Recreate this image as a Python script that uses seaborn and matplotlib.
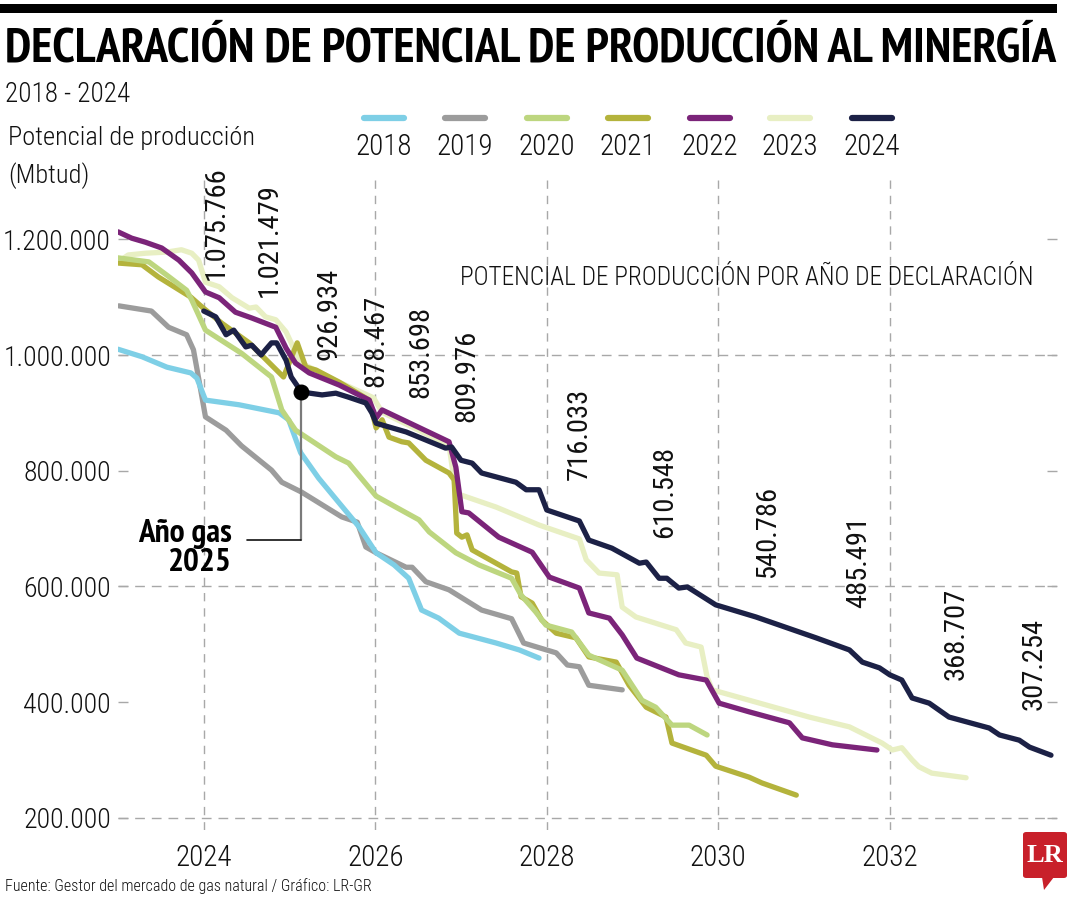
import numpy as np
import pandas as pd
import matplotlib
matplotlib.use("Agg")
import matplotlib.pyplot as plt
import seaborn as sns
from matplotlib.patches import FancyBboxPatch, Polygon, Rectangle
from matplotlib.lines import Line2D
from matplotlib.ticker import FuncFormatter

# ---------------- data (values in thousands of Mbtud) ----------------
years_2018 = [2023.0, 2023.28, 2023.57, 2023.85, 2023.92, 2024.02, 2024.41, 2024.88, 2024.99,
              2025.13, 2025.34, 2025.58, 2025.81, 2026.01, 2026.22, 2026.39, 2026.54, 2026.74,
              2026.98, 2027.41, 2027.68, 2027.91]
pot_2018 = [1010, 997, 979, 969, 960, 922, 914, 900, 888, 831, 787, 744, 703, 658, 637, 614,
            559, 545, 519, 502, 490, 476]

years_2019 = [2023.01, 2023.39, 2023.59, 2023.80, 2023.88, 2023.94, 2024.02, 2024.26, 2024.44,
              2024.79, 2024.91, 2025.14, 2025.61, 2025.79, 2025.89, 2026.01, 2026.36, 2026.43,
              2026.59, 2026.86, 2027.24, 2027.59, 2027.73, 2028.11, 2028.24, 2028.38, 2028.49,
              2028.88]
pot_2019 = [1085, 1076, 1048, 1035, 1009, 960, 893, 870, 843, 801, 780, 763, 720, 711, 668,
            658, 633, 633, 608, 594, 559, 544, 502, 485, 464, 461, 429, 421]

years_2020 = [2023.0, 2023.36, 2023.57, 2023.80, 2023.86, 2024.02, 2024.44, 2024.79, 2024.91,
              2025.07, 2025.54, 2025.69, 2026.01, 2026.24, 2026.51, 2026.63, 2026.94, 2027.21,
              2027.59, 2027.70, 2027.87, 2027.99, 2028.29, 2028.49, 2028.88, 2029.11, 2029.27,
              2029.46, 2029.66, 2029.87]
pot_2020 = [1168, 1161, 1138, 1112, 1095, 1043, 1003, 962, 905, 870, 824, 813, 756, 737, 715,
            694, 658, 637, 614, 585, 556, 533, 521, 481, 455, 403, 391, 360, 360, 343]

years_2021 = [2023.0, 2023.28, 2023.47, 2023.85, 2023.98, 2024.21, 2024.53, 2024.93, 2025.09,
              2025.19, 2025.31, 2025.58, 2025.93, 2026.01, 2026.08, 2026.16, 2026.31, 2026.39,
              2026.59, 2026.86, 2026.92, 2026.95, 2027.01, 2027.07, 2027.13, 2027.59, 2027.65,
              2027.70, 2027.83, 2027.94, 2028.11, 2028.34, 2028.49, 2028.81, 2028.96, 2029.16,
              2029.39, 2029.46, 2029.86, 2029.97, 2030.36, 2030.51, 2030.91]
pot_2021 = [1159, 1156, 1135, 1100, 1083, 1055, 1021, 962, 1021, 979, 974, 953, 922, 874, 888,
            858, 850, 848, 818, 796, 784, 692, 685, 689, 663, 625, 623, 582, 571, 542, 519, 511,
            478, 469, 429, 391, 374, 329, 308, 289, 270, 260, 239]

years_2022 = [2023.0, 2023.16, 2023.32, 2023.51, 2023.71, 2023.86, 2024.02, 2024.18, 2024.37,
              2024.56, 2024.84, 2024.96, 2025.07, 2025.23, 2025.58, 2025.93, 2026.01, 2026.08,
              2026.86, 2026.94, 2027.01, 2027.09, 2027.44, 2027.83, 2028.03, 2028.38, 2028.49,
              2028.73, 2028.88, 2029.05, 2029.54, 2029.86, 2030.01, 2030.36, 2030.83, 2030.98,
              2031.33, 2031.85]
pot_2022 = [1213, 1202, 1195, 1185, 1164, 1142, 1109, 1099, 1074, 1064, 1048, 1012, 986, 969,
            948, 922, 891, 905, 850, 806, 729, 727, 685, 659, 616, 597, 554, 545, 516, 476, 447,
            438, 398, 383, 364, 338, 326, 317]

years_2023 = [2023.0, 2023.12, 2023.32, 2023.57, 2023.74, 2023.86, 2023.94, 2024.02, 2024.18,
              2024.33, 2024.53, 2024.61, 2024.72, 2024.84, 2024.96, 2025.02, 2025.11, 2025.58,
              2025.98, 2026.08, 2026.86, 2026.94, 2027.41, 2027.91, 2028.38, 2028.46, 2028.61,
              2028.82, 2028.88, 2029.04, 2029.51, 2029.62, 2029.80, 2029.87, 2029.93, 2031.06,
              2031.53, 2031.91, 2032.03, 2032.14, 2032.26, 2032.34, 2032.49, 2032.89]
pot_2023 = [1161, 1173, 1176, 1178, 1182, 1176, 1164, 1126, 1118, 1099, 1081, 1083, 1066, 1061,
            1040, 1021, 988, 953, 926, 901, 844, 761, 737, 706, 682, 646, 623, 620, 564, 547,
            525, 502, 495, 443, 421, 374, 357, 329, 317, 321, 300, 288, 277, 269]

years_2024 = [2024.0, 2024.14, 2024.26, 2024.35, 2024.49, 2024.56, 2024.67, 2024.72, 2024.79,
              2024.85, 2024.96, 2025.02, 2025.14, 2025.38, 2025.54, 2025.69, 2025.89, 2025.96,
              2026.01, 2026.36, 2026.82, 2026.89, 2027.0, 2027.13, 2027.24, 2027.64, 2027.76,
              2027.91, 2028.0, 2028.38, 2028.49, 2028.76, 2029.08, 2029.16, 2029.31, 2029.40,
              2029.54, 2029.64, 2029.97, 2030.44, 2031.14, 2031.53, 2031.68, 2031.88, 2032.0,
              2032.14, 2032.26, 2032.46, 2032.69, 2033.16, 2033.28, 2033.51, 2033.63, 2033.88]
pot_2024 = [1076, 1066, 1035, 1043, 1014, 1017, 1000, 1009, 1021, 1021, 991, 962, 936, 931,
            934, 927, 917, 900, 882, 867, 839, 841, 818, 813, 796, 780, 767, 767, 732, 713, 680,
            666, 640, 642, 614, 614, 597, 599, 568, 547, 511, 490, 469, 459, 447, 438, 407, 398,
            374, 355, 343, 334, 322, 308]

series_labels = ["2018", "2019", "2020", "2021", "2022", "2023", "2024"]
series_years = [years_2018, years_2019, years_2020, years_2021, years_2022, years_2023, years_2024]
series_values = [pot_2018, pot_2019, pot_2020, pot_2021, pot_2022, pot_2023, pot_2024]

annot_values = ["1.075.766", "1.021.479", "926.934", "878.467", "853.698", "809.976",
                "716.033", "610.548", "540.786", "485.491", "368.707", "307.254"]
annot_x = [2024.15, 2024.76, 2025.46, 2026.01, 2026.53, 2027.07, 2028.38, 2029.38, 2030.57,
           2031.64, 2032.77, 2033.68]
annot_y = [1130, 1100, 991, 945, 926, 884, 784, 684, 614, 563, 438, 386]

x_ticks = [2024, 2026, 2028, 2030, 2032]
y_ticks = [200000, 400000, 600000, 800000, 1000000, 1200000]

palette = {"2018": "#7ecfe6", "2019": "#9c9c9c", "2020": "#bdd67f", "2021": "#b4b33c",
           "2022": "#7b2479", "2023": "#e8efc3", "2024": "#1c2146"}
draw_order = ["2023", "2019", "2018", "2021", "2020", "2022", "2024"]

# ---------------- build frame ----------------
frames = []
for lab, xs, vs in zip(series_labels, series_years, series_values):
    frames.append(pd.DataFrame({"año": xs, "potencial": np.array(vs) * 1000.0,
                                "declaración": lab}))
df = pd.concat(frames, ignore_index=True)

sns.set_theme(style="white")
LIGHT = ["Roboto Condensed", "PT Sans Narrow", "DejaVu Sans"]
BOLD = ["PT Sans Narrow", "Roboto Condensed", "DejaVu Sans"]
plt.rcParams["font.family"] = LIGHT
plt.rcParams["font.weight"] = 300

W, H = 1080, 900
fig = plt.figure(figsize=(W / 100, H / 100), dpi=100)
ax_l, ax_r, ax_t, ax_b = 118, 1057, 180, 830
ax = fig.add_axes([ax_l / W, 1 - ax_b / H, (ax_r - ax_l) / W, (ax_b - ax_t) / H])

def fx(px):
    return px / W

def fy(py):
    return 1 - py / H

GRID = "#a8a8a8"
TXT = "#111111"
for xt in x_ticks:
    ax.axvline(xt, color=GRID, lw=1.0, ls=(0, (6, 5)), zorder=0)
for yv in [200000, 600000, 1000000]:
    ax.axhline(yv, color=GRID, lw=1.0, ls=(0, (7, 5)), zorder=0)

sns.lineplot(data=df, x="año", y="potencial", hue="declaración", hue_order=draw_order,
             palette=palette, estimator=None, sort=False, linewidth=3.8, legend=False,
             ax=ax, solid_capstyle="round", solid_joinstyle="round")

ax.set_xlim(2023.0, 2033.95)
ax.set_ylim(178700, 1302600)
ax.set_xticks(x_ticks)
ax.set_xticklabels([str(t) for t in x_ticks])
ax.set_yticks(y_ticks)
ax.yaxis.set_major_formatter(FuncFormatter(lambda v, p: f"{int(round(v)):,}".replace(",", ".")))
ax.set_xlabel("")
ax.set_ylabel("")
for s in ax.spines.values():
    s.set_visible(False)
ax.tick_params(axis="y", left=True, right=True, direction="in", length=7, width=1,
               color=GRID, labelsize=20, pad=5, labelcolor=TXT)
ax.tick_params(axis="x", bottom=False, labelsize=21, pad=4, labelcolor=TXT)
for lbl in ax.get_xticklabels() + ax.get_yticklabels():
    lbl.set_fontweight(300)
ax.grid(False)

for txt, xv, yv in zip(annot_values, annot_x, annot_y):
    ax.text(xv, yv * 1000, txt, rotation=90, ha="center", va="bottom", fontsize=20.5,
            color=TXT, zorder=5, fontweight=400)

dot_x, dot_y = 2025.13, 936000
ax.plot([dot_x, dot_x], [dot_y, 680000], color="#7a7a7a", lw=1.6, zorder=6)
ax.plot([dot_x, 2024.50], [680000, 680000], color="#111111", lw=1.2, zorder=6)
ax.scatter([dot_x], [dot_y], s=110, color="#000000", zorder=7)
ax.text(2024.33, 665000, "Año gas\n2025", ha="right", va="center", fontsize=24,
        fontweight="bold", family=BOLD, multialignment="right", linespacing=0.95,
        color="#000000")

fig.text(fx(460), fy(278), "POTENCIAL DE PRODUCCIÓN POR AÑO DE DECLARACIÓN", ha="left",
         va="center", fontsize=18.3, color=TXT, fontweight=300)

# ---------------- figure-level decoration ----------------
fig.add_artist(Rectangle((0, fy(13)), fx(1057), (13 - 4) / H, transform=fig.transFigure,
                         color="#000000", lw=0))
fig.text(fx(5), fy(49), "DECLARACIÓN DE POTENCIAL DE PRODUCCIÓN AL MINERGÍA", ha="left",
         va="center", fontsize=35.2, fontweight="bold", family=BOLD, color="#000000")
fig.text(fx(5), fy(95), "2018 - 2024", ha="left", va="center", fontsize=19.5, color=TXT,
         fontweight=300)
fig.text(fx(8), fy(138), "Potencial de producción", ha="left", va="center", fontsize=19,
         color=TXT, fontweight=300)
fig.text(fx(8), fy(176), "(Mbtud)", ha="left", va="center", fontsize=19, color=TXT,
         fontweight=300)

leg_x = [384, 465, 547, 628, 710, 790, 872]
for lab, cx in zip(series_labels, leg_x):
    fig.add_artist(Line2D([fx(cx - 20), fx(cx + 20)], [fy(118), fy(118)],
                          transform=fig.transFigure, color=palette[lab], lw=4.5,
                          solid_capstyle="round"))
    fig.text(fx(cx), fy(147), lab, ha="center", va="center", fontsize=21, color=TXT,
             fontweight=300)

fig.text(fx(5), fy(886), "Fuente: Gestor del mercado de gas natural / Gráfico: LR-GR",
         ha="left", va="center", fontsize=11.5, color=TXT, fontweight=300)

logo = FancyBboxPatch((fx(1023), fy(878)), fx(44), (878 - 832) / H,
                      boxstyle="round,pad=0,rounding_size=0.003", transform=fig.transFigure,
                      facecolor="#c8202a", edgecolor="none")
fig.add_artist(logo)
fig.add_artist(Polygon([[fx(1042), fy(877)], [fx(1054), fy(877)], [fx(1044), fy(890)]],
                       closed=True, transform=fig.transFigure, facecolor="#c8202a",
                       edgecolor="none"))
fig.text(fx(1045), fy(856), "LR", ha="center", va="center", fontsize=19, fontweight="bold",
         family=["Liberation Serif", "DejaVu Serif"], color="white")

fig.savefig("out.png", dpi=100)
